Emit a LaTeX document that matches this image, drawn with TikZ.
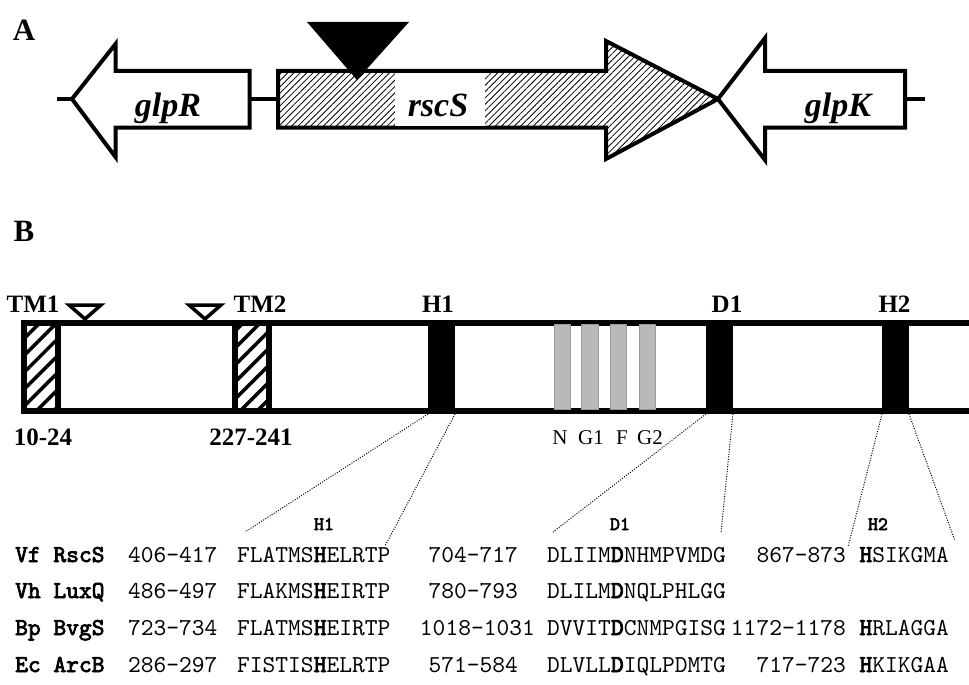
\documentclass[tikz,border=0pt]{standalone}
\usepackage{fontspec}
\setmainfont{Liberation Serif}
\setmonofont{lmmono10-regular.otf}[BoldFont=lmmono10-regular.otf,BoldFeatures={FakeBold=3}]
\usetikzlibrary{calc,positioning,patterns.meta}

\tikzset{
  panel/.style={font=\fontsize{31}{36}\selectfont\bfseries,inner sep=0pt},
  gene/.style={line width=4pt,line join=miter},
  genelbl/.style={font=\fontsize{34}{40}\selectfont\bfseries\itshape,inner sep=0pt,anchor=base},
  hatch/.style={pattern={Lines[angle=45,distance=4.5pt,line width=0.8pt]}},
  domlbl/.style={font=\fontsize{25}{30}\selectfont\bfseries,inner sep=0pt,anchor=base},
  tmbox/.style={draw,line width=6pt,minimum width=33.5pt,minimum height=88pt,inner sep=0pt,
    pattern={Lines[angle=45,distance=12pt,line width=3.5pt]}},
  dombox/.style={fill=black,minimum width=27pt,minimum height=94pt,inner sep=0pt,outer sep=0pt},
  motifbox/.style={fill=gray!55,draw=gray!80,line width=0.8pt,minimum width=16.5pt,minimum height=85pt,inner sep=0pt},
  motiflbl/.style={font=\fontsize{21}{24}\selectfont,inner sep=0pt,anchor=base},
  ins/.style={draw,fill=white,line width=3.5pt,line join=miter},
  dotline/.style={line width=1pt,dash pattern=on 1pt off 1.5pt},
  seq/.style={font=\fontsize{24.3}{28}\selectfont\ttfamily,inner sep=0pt},
  seqhead/.style={font=\fontsize{19}{22}\selectfont\ttfamily\bfseries,inner sep=0pt,anchor=base},
}

\begin{document}
\begin{tikzpicture}[x=1pt,y=-1pt]
  \useasboundingbox (0,0) rectangle (969,685);

  % Panel A
  \node[panel] (labA) at (24,30) {A};

  % glpR
  \draw[gene,fill=white] (72,99) -- (115.5,44) -- (115.5,71) -- (249.5,71) -- (249.5,127.5)
    -- (115.5,127.5) -- (115.5,157) -- cycle;
  \coordinate (glpRtip) at (72,99);
  \coordinate (glpRend) at (249.5,99);
  \coordinate (tailL) at (57,99);
  \draw[gene] (tailL) -- (glpRtip);
  \node[genelbl] (glpR) at (168,116) {glpR};

  % rscS
  \draw[gene,hatch] (278,71) -- (606,71) -- (606,41) -- (718,99) -- (606,159) -- (606,127.5)
    -- (278,127.5) -- cycle;
  \fill[white] (395,73.5) rectangle (485,125.5);
  \coordinate (rscSend) at (278,99);
  \draw[gene] (glpRend) -- (rscSend);
  \node[genelbl] (rscS) at (438,116) {rscS};

  % glpK
  \draw[gene,fill=white] (718,99) -- (765,38) -- (765,71) -- (905,71) -- (905,127.5)
    -- (765,127.5) -- (765,160) -- cycle;
  \coordinate (glpKend) at (905,99);
  \coordinate (tailR) at (925,99);
  \draw[gene] (glpKend) -- (tailR);
  \node[genelbl] (glpK) at (838,116) {glpK};

  % Transposon insertion
  \fill[black] (307,22) -- (409,22) -- (357,80) -- cycle;

  % Panel B
  \node[panel] (labB) at (24,231) {B};

  % Protein bar
  \draw[line width=6pt,line join=miter] (975,323) -- (24,323) -- (24,411) -- (975,411);

  % Transmembrane segments
  \node[tmbox] (TM1box) at (40.75,367) {};
  \node[tmbox] (TM2box) at (252,367) {};

  % Phosphorylation domains
  \node[dombox] (H1box) at (441.5,367) {};
  \node[dombox] (D1box) at (719.5,367) {};
  \node[dombox] (H2box) at (895.5,367) {};

  % ATP-binding motifs
  \foreach \m/\cx/\lx in {N/562.5/560, G1/590/591, F/618.5/622, G2/647.5/650} {
    \node[motifbox] (box\m) at (\cx,366.5) {};
    \node[motiflbl] (lbl\m) at (\lx,444) {\m};
  }

  % Insertion sites
  \draw[ins] (69,305) -- (101,305) -- (85,319) -- cycle;
  \draw[ins] (189,305) -- (221,305) -- (205,319) -- cycle;

  % Domain labels
  \node[domlbl] (TM1) at (33,312) {TM1};
  \node[domlbl] (TM2) at (260,312) {TM2};
  \node[domlbl] (H1) at (438,312) {H1};
  \node[domlbl] (D1) at (727,312) {D1};
  \node[domlbl] (H2) at (894.5,312) {H2};
  \node[domlbl] (TM1pos) at (43,445) {10-24};
  \node[domlbl] (TM2pos) at (251,445) {227-241};

  % Alignment
  \node[seqhead] (headH1) at (324,530) {H1};
  \node[seqhead] (headD1) at (620,530) {D1};
  \node[seqhead] (headH2) at (878,530) {H2};

  \foreach \y/\nm/\ra/\sa/\rb/\rx/\sb in {
    562/Vf RscS/406-417/{FLATMS\textbf{H}ELRTP}/704-717/518/{DLIIM\textbf{D}NHMPVMDG},
    598/Vh LuxQ/486-497/{FLAKMS\textbf{H}EIRTP}/780-793/518/{DLILM\textbf{D}NQLPHLGG},
    635/Bp BvgS/723-734/{FLATMS\textbf{H}EIRTP}/1018-1031/535/{DVVIT\textbf{D}CNMPGISG},
    672/Ec ArcB/286-297/{FISTIS\textbf{H}ELRTP}/571-584/518/{DLVLL\textbf{D}IQLPDMTG}} {
    \node[seq,anchor=base west] (name\y) at (15,\y) {\textbf{\nm}};
    \node[seq,anchor=base west] (ra\y) at (128,\y) {\ra};
    \node[seq,anchor=base west] (sa\y) at (237,\y) {\sa};
    \node[seq,anchor=base east] (rb\y) at (\rx,\y) {\rb};
    \node[seq,anchor=base west] (sb\y) at (547,\y) {\sb};
  }
  \foreach \y/\rc/\sc in {
    562/867-873/{\textbf{H}SIKGMA},
    635/1172-1178/{\textbf{H}RLAGGA},
    672/717-723/{\textbf{H}KIKGAA}} {
    \node[seq,anchor=base east] (rc\y) at (846,\y) {\rc};
    \node[seq,anchor=base east] (sc\y) at (949,\y) {\sc};
  }

  % Zoom lines
  \coordinate (h1a) at (245,532);
  \coordinate (h1b) at (385,546);
  \coordinate (d1a) at (553,532);
  \coordinate (d1b) at (721,533);
  \coordinate (h2a) at (848,547);
  \coordinate (h2b) at (955,541);
  \draw[dotline] (H1box.south west) -- (h1a);
  \draw[dotline] (H1box.south east) -- (h1b);
  \draw[dotline] (D1box.south west) -- (d1a);
  \draw[dotline] (D1box.south east) -- (d1b);
  \draw[dotline] (H2box.south west) -- (h2a);
  \draw[dotline] (H2box.south east) -- (h2b);
\end{tikzpicture}
\end{document}
